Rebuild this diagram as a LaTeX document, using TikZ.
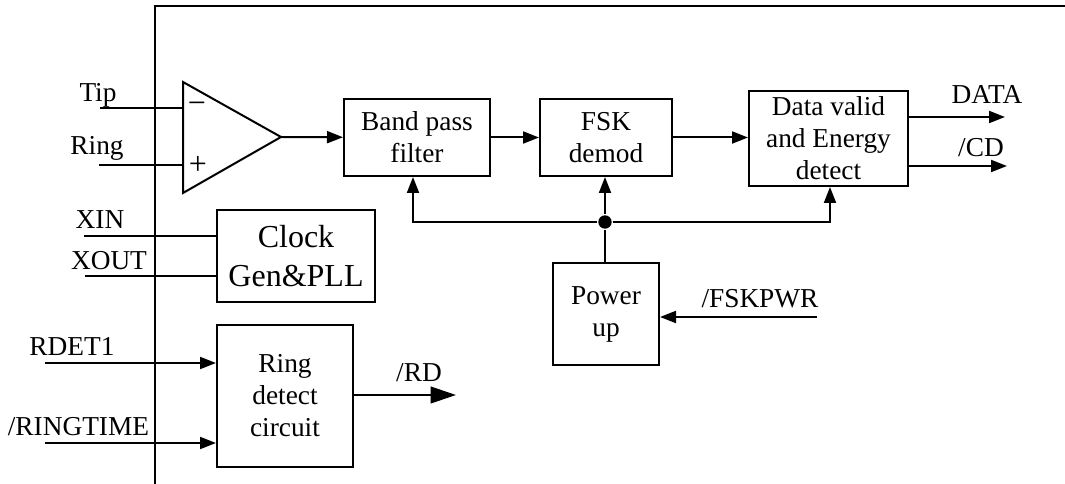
\documentclass[tikz,border=0pt]{standalone}
\usepackage{fontspec}
\setmainfont{Liberation Serif}
\usetikzlibrary{arrows.meta}

\begin{document}
\begin{tikzpicture}[x=0.75pt,y=-0.75pt,line width=1.5pt,
    every node/.style={inner sep=0pt,align=center,font=\fontsize{20.5}{24}\selectfont},
    blk/.style 2 args={draw,minimum width=#1*0.75pt,minimum height=#2*0.75pt},
    arr/.style={-{Triangle[length=12pt,width=9pt]}},
    bigarr/.style={-{Triangle[length=19pt,width=12.5pt]}}]
            \useasboundingbox (0,0) rectangle (1065,484);

            \coordinate (top) at (1065,6);
            \coordinate (corner) at (155,6);
            \coordinate (bottom) at (155,484);
            \draw (top) -- (corner) -- (bottom);

            \coordinate (amp1) at (183,82);
            \coordinate (amp2) at (183,193);
            \coordinate (amp) at (281,137);
            \draw (amp1) -- (amp) -- (amp2) -- cycle;
            \node[font=\fontsize{24}{29}\selectfont] (minus) at (197,108) {−};
            \node[font=\fontsize{24}{29}\selectfont] (plus) at (198,165) {+};

            \node[blk={146}{77}] (band) at (417,137.5) {Band pass\\filter};
            \node[blk={132}{77}] (fsk) at (606,137.5) {FSK\\demod};
            \node[blk={159}{95}] (valid) at (828.5,138.5) {Data valid\\and Energy\\detect};
            \node[blk={106}{102}] (pwr) at (606,314) {Power\\up};
            \node[blk={158}{92},font=\fontsize{24}{29}\selectfont] (clk) at (296,256) {Clock\\Gen\&PLL};
            \node[blk={136}{142}] (ring) at (285,396) {Ring\\detect\\circuit};
            \node[circle,fill=black,minimum size=10pt] (dot) at (605,222) {};

            \node (tip) at (98,95) {Tip};
            \node (rng) at (97,148) {Ring};
            \node (xin) at (100,220) {XIN};
            \node (xout) at (109,261) {XOUT};
            \node (rdet) at (72,347) {RDET1};
            \node (rtime) at (78.5,427) {/RINGTIME};
            \node (rd) at (419,373) {/RD};
            \node (data) at (987,95) {DATA};
            \node (cd) at (981,148) {/CD};
            \node (fskpwr) at (760,299) {/FSKPWR};

            \coordinate (tipin) at (100,108);
            \coordinate (rngin) at (99,165);
            \coordinate (xinin) at (84,236);
            \coordinate (xoutin) at (85,276);
            \coordinate (rdetin) at (45,363);
            \coordinate (rtimein) at (45,443);
            \coordinate (rdout) at (456,395);
            \coordinate (dataout) at (1005,117);
            \coordinate (cdout) at (1007,166);
            \coordinate (pwrin) at (817,317);
            \coordinate (busl) at (413,222);
            \coordinate (busr) at (830,222);

            \path [-] (tipin) edge (tipin -| amp1);
            \path [-] (rngin) edge (rngin -| amp1);
            \path [arr] (amp) edge (band);
            \path [arr] (band) edge (fsk);
            \path [arr] (fsk) edge (fsk -| valid.west);
            \path [-] (xinin) edge (xinin -| clk.west);
            \path [-] (xoutin) edge (xoutin -| clk.west);
            \path [arr] (rdetin) edge (rdetin -| ring.west);
            \path [arr] (rtimein) edge (rtimein -| ring.west);
            \path [bigarr] (ring.east |- rdout) edge (rdout);
            \path [arr] (valid.east |- dataout) edge (dataout);
            \path [arr] (valid.east |- cdout) edge (cdout);
            \path [arr] (pwrin) edge (pwrin -| pwr.east);
            \path [-] (dot |- pwr.north) edge (dot);
            \path [arr] (dot) edge (dot |- fsk.south);
            \draw [arr] (dot) -- (busl) -- (busl |- band.south);
            \draw [arr] (dot) -- (busr) -- (busr |- valid.south);
        \end{tikzpicture}
\end{document}
